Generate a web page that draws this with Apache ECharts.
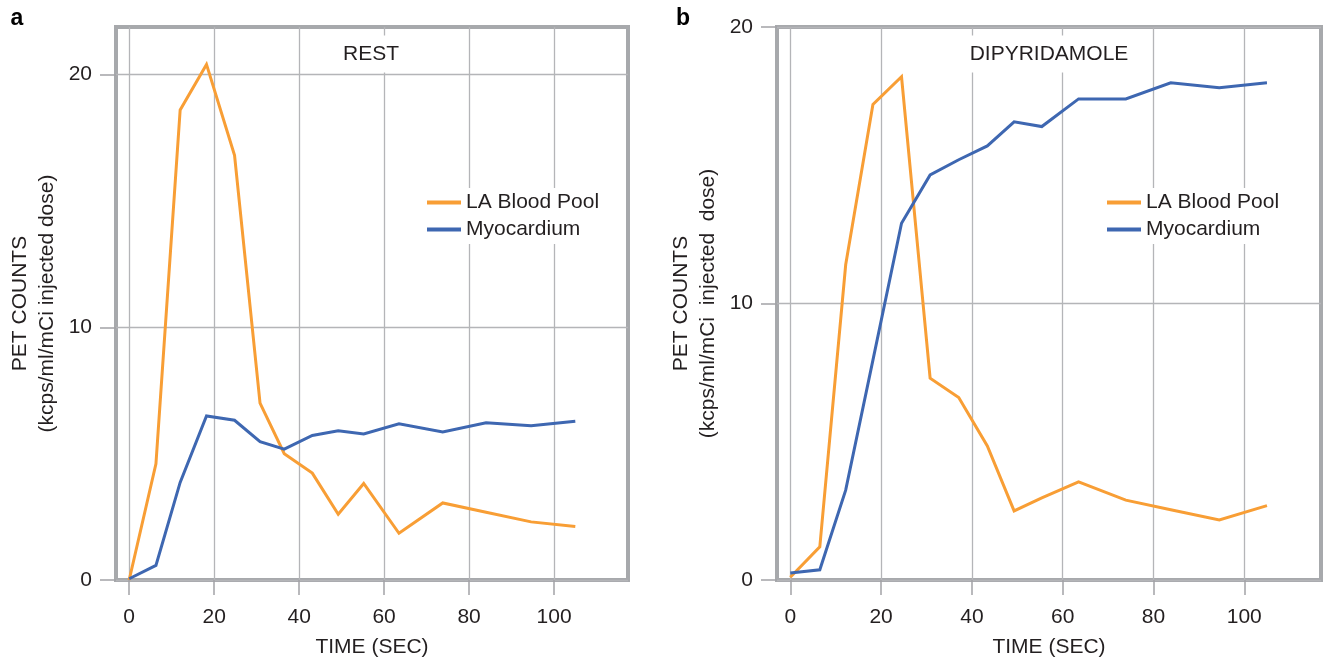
<!DOCTYPE html>
<html>
<head>
<meta charset="utf-8">
<script src="https://cdn.jsdelivr.net/npm/echarts@6/dist/echarts.min.js"></script>
<style>
  html, body { margin: 0; padding: 0; background: #fff; }
  #chart { width: 1324px; height: 663px; }
</style>
</head>
<body>
<div id="chart"></div>
<script>
// Time–activity curves, panel a (rest) and panel b (dipyridamole)
const timeRest = [0, 6.3, 12, 18.2, 24.8, 30.8, 36.5, 43.1, 49.2, 55.2, 63.5, 73.8, 84, 94.6, 105];
const bloodPoolRest = [0, 4.6, 18.6, 20.4, 16.8, 7.0, 5.0, 4.23, 2.6, 3.82, 1.85, 3.05, 2.68, 2.3, 2.12];
const myocardiumRest = [0.05, 0.58, 3.86, 6.49, 6.32, 5.47, 5.18, 5.72, 5.9, 5.78, 6.18, 5.86, 6.22, 6.1, 6.28];

const timeDip = [0, 6.5, 12.2, 18.2, 24.5, 30.8, 37.1, 43.4, 49.3, 55.4, 63.5, 73.9, 83.8, 94.5, 105];
const bloodPoolDip = [0.1, 1.2, 11.4, 17.2, 18.2, 7.3, 6.6, 4.85, 2.5, 2.97, 3.55, 2.89, 2.54, 2.17, 2.69];
const myocardiumDip = [0.25, 0.37, 3.25, 7.95, 12.9, 14.65, 15.2, 15.7, 16.57, 16.4, 17.4, 17.4, 17.98, 17.8, 17.98];

const xTicks = [0, 20, 40, 60, 80, 100];
const yTicks = [0, 10, 20];

const seriesNames = ['LA Blood Pool', 'Myocardium'];
const panelTitles = ['REST', 'DIPYRIDAMOLE'];
const panelLetters = ['a', 'b'];
const xName = 'TIME (SEC)';
const yNameRest = 'PET COUNTS\n(kcps/ml/mCi injected dose)';
const yNameDip = 'PET COUNTS\n(kcps/ml/mCi  injected  dose)';

const ORANGE = '#f89e35';
const BLUE = '#3e67b1';
const FRAME = '#a7a9ac';
const TICK = '#a2a3a6';
const GRIDLINE = '#b4b5b8';
const INK = '#231f20';
const FONT = '"Liberation Sans", Arial, Helvetica, sans-serif';
const FS = 21;

const pairs = (xs, ys) => xs.map((x, i) => [x, ys[i]]);

function xAxisFor(gridIndex, min, max) {
  return {
    type: 'value', gridIndex, position: 'bottom', min, max, splitNumber: 6,
    name: xName, nameLocation: 'middle', nameGap: 57,
    nameTextStyle: { fontSize: FS, color: INK, fontFamily: FONT },
    axisLine: { show: false, onZero: false },
    axisTick: { show: true, inside: false, customValues: xTicks, length: 15, lineStyle: { color: TICK, width: 1.5 } },
    axisLabel: { customValues: xTicks, margin: 27, fontSize: FS, color: INK, fontFamily: FONT },
    splitLine: { show: true, lineStyle: { color: GRIDLINE, width: 1.3 } }
  };
}

function yAxisFor(gridIndex, max, name) {
  return {
    type: 'value', gridIndex, position: 'left', min: 0, max, interval: 10,
    name, nameLocation: 'middle', nameGap: 55, nameRotate: 90,
    nameTextStyle: { fontSize: FS, lineHeight: 27, color: INK, fontFamily: FONT },
    axisLine: { show: false, onZero: false },
    axisTick: { show: true, inside: false, customValues: yTicks, length: 16, lineStyle: { color: TICK, width: 1.5 } },
    axisLabel: { customValues: yTicks, margin: 24, fontSize: FS, color: INK, fontFamily: FONT },
    splitLine: { show: true, lineStyle: { color: GRIDLINE, width: 1.3 } }
  };
}

function lineSeries(name, color, xi, data) {
  return {
    name, type: 'line', xAxisIndex: xi, yAxisIndex: xi, data,
    showSymbol: false, symbol: 'none', smooth: false,
    lineStyle: { color, width: 3, join: 'miter' }, itemStyle: { color },
    z: 3
  };
}

function legendAt(left) {
  return {
    data: seriesNames, orient: 'vertical', left, top: 188,
    icon: 'rect', itemWidth: 34, itemHeight: 4, itemGap: 6,
    padding: [4, 6], backgroundColor: '#fff',
    textStyle: { fontSize: FS, lineHeight: 21, color: INK, fontFamily: FONT },
    selectedMode: false
  };
}

function label(text, x, y, opts) {
  return {
    type: 'text', x, y, z: 10,
    style: Object.assign({
      text, fill: INK, fontSize: FS, fontFamily: FONT,
      align: 'center', verticalAlign: 'middle'
    }, opts || {})
  };
}

const chart = echarts.init(document.getElementById('chart'), null, { renderer: 'canvas' });

chart.setOption({
  animation: false,
  backgroundColor: '#fff',
  grid: [
    { left: 116, top: 27, width: 512, height: 558, show: true, borderColor: FRAME, borderWidth: 4, containLabel: false },
    { left: 777, top: 27, width: 544, height: 558, show: true, borderColor: FRAME, borderWidth: 4, containLabel: false }
  ],
  xAxis: [xAxisFor(0, -3.1, 117.4), xAxisFor(1, -2.93, 116.9)],
  yAxis: [yAxisFor(0, 21.88, yNameRest), yAxisFor(1, 20, yNameDip)],
  legend: [legendAt(421), legendAt(1101)],
  series: [
    lineSeries(seriesNames[0], ORANGE, 0, pairs(timeRest, bloodPoolRest)),
    lineSeries(seriesNames[1], BLUE, 0, pairs(timeRest, myocardiumRest)),
    lineSeries(seriesNames[0], ORANGE, 1, pairs(timeDip, bloodPoolDip)),
    lineSeries(seriesNames[1], BLUE, 1, pairs(timeDip, myocardiumDip))
  ],
  graphic: [
    label(panelLetters[0], 17, 19, { fontSize: 23, fontWeight: 'bold', fill: '#000' }),
    label(panelLetters[1], 683, 19, { fontSize: 23, fontWeight: 'bold', fill: '#000' }),
    label(panelTitles[0], 371, 54, { backgroundColor: '#fff', padding: [8, 6] }),
    label(panelTitles[1], 1049, 54, { backgroundColor: '#fff', padding: [8, 6] })
  ]
});
</script>
</body>
</html>
